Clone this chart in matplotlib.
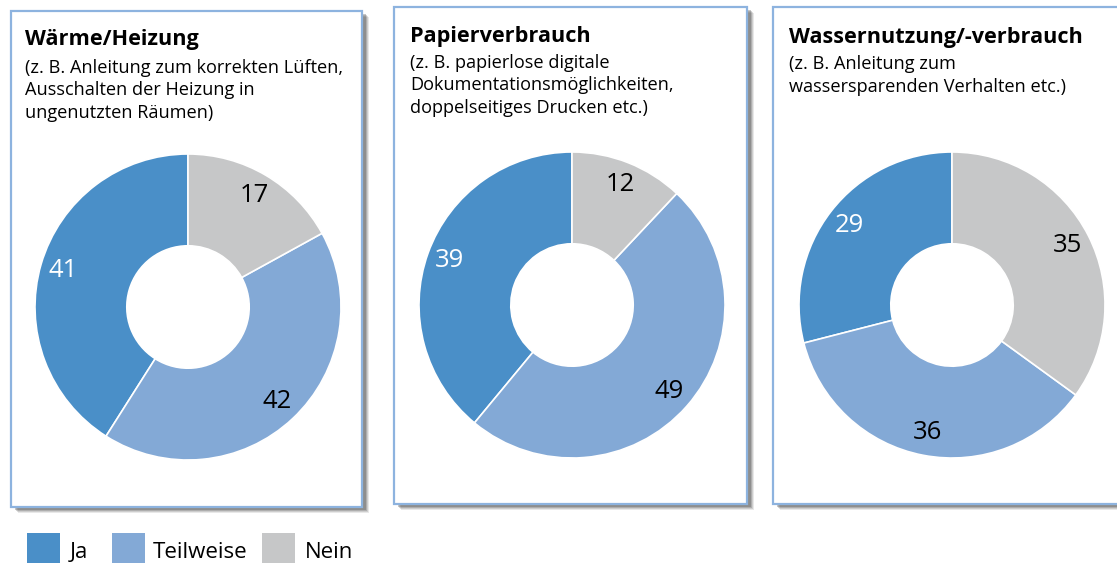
import matplotlib
matplotlib.use('Agg')
import matplotlib.pyplot as plt
from matplotlib.patches import Rectangle
import numpy as np

plt.rcParams['font.family'] = ['Open Sans', 'DejaVu Sans']

# data
categories = ['Ja', 'Teilweise', 'Nein']
colors = ['#4a8fc8', '#83a9d6', '#c6c7c8']
label_colors = ['white', 'black', 'black']
titles = ['Wärme/Heizung', 'Papierverbrauch', 'Wassernutzung/-verbrauch']
subtitles = [
    ['(z. B. Anleitung zum korrekten Lüften,', 'Ausschalten der Heizung in', 'ungenutzten Räumen)'],
    ['(z. B. papierlose digitale', 'Dokumentationsmöglichkeiten,', 'doppelseitiges Drucken etc.)'],
    ['(z. B. Anleitung zum', 'wassersparenden Verhalten etc.)'],
]
waerme = [41, 42, 17]
papier = [39, 49, 12]
wasser = [29, 36, 35]

W, H = 1117, 563
fig = plt.figure(figsize=(W / 100, H / 100), dpi=100)


def fx(px):
    return px / W


def fy(py):
    return 1 - py / H


# panel boxes: left, top, right, bottom (pixels)
boxes = [(11, 11, 362, 507), (394, 7, 747, 504), (773, 7, 1130, 504)]
centers = [(188, 307), (572, 305), (952, 305)]
R = 153
text_x = [25, 410, 789]
title_base = [45, 42, 43]
sub_base = [73, 68, 69]
line_step = 22.5

for i, (l, t, r, b) in enumerate(boxes):
    # soft shadow
    for k, a in enumerate([0.12, 0.16, 0.22, 0.30]):
        off = 6 - k
        fig.patches.append(Rectangle((fx(l + off + 1), fy(b + off)), fx(r - l), (b - t) / H,
                                     transform=fig.transFigure, facecolor='#444444',
                                     edgecolor='none', alpha=a, zorder=0))
    fig.patches.append(Rectangle((fx(l), fy(b)), fx(r - l), (b - t) / H,
                                 transform=fig.transFigure, facecolor='white',
                                 edgecolor='#8db3df', linewidth=1.6, zorder=1))

values_list = [waerme, papier, wasser]
for i, vals in enumerate(values_list):
    tx = text_x[i]
    fig.text(fx(tx), fy(title_base[i]), titles[i], fontsize=15.6, fontweight='bold',
             ha='left', va='baseline', color='black', zorder=3)
    for j, line in enumerate(subtitles[i]):
        fig.text(fx(tx), fy(sub_base[i] + j * line_step), line, fontsize=13.1,
                 ha='left', va='baseline', color='black', zorder=3)
    cx, cy = centers[i]
    ax = fig.add_axes([fx(cx - R), fy(cy + R), 2 * R / W, 2 * R / H], zorder=2)
    wedges, _ = ax.pie(vals, colors=colors, startangle=90, counterclock=True, radius=1,
                       wedgeprops=dict(width=0.6, edgecolor='white', linewidth=1.2))
    ax.set_xlim(-1, 1)
    ax.set_ylim(-1, 1)
    ax.axis('off')
    for w, v, c in zip(wedges, vals, label_colors):
        ang = np.deg2rad((w.theta1 + w.theta2) / 2)
        ax.text(0.85 * np.cos(ang), 0.85 * np.sin(ang), str(v), ha='center', va='center',
                fontsize=18.5, color=c)

# legend
leg_sq = [27, 112, 262]
leg_tx = [70, 153, 305]
for sx, tx, col, name in zip(leg_sq, leg_tx, colors, categories):
    fig.patches.append(Rectangle((fx(sx), fy(566)), fx(33), 33 / H, transform=fig.transFigure,
                                 facecolor=col, edgecolor='none', zorder=1))
    fig.text(fx(tx), fy(553), name, fontsize=16, ha='left', va='center', color='black')

fig.savefig('out.png', dpi=100)
